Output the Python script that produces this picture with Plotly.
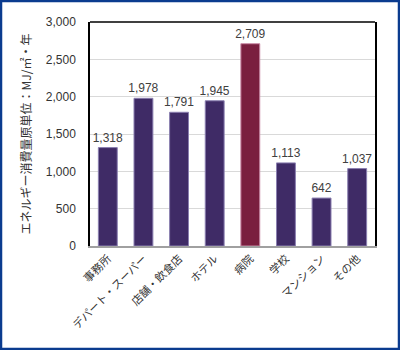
import plotly.graph_objects as go

categories = ["事務所", "デパート・スーパー", "店舗・飲食店", "ホテル", "病院", "学校", "マンション", "その他"]
values = [1318, 1978, 1791, 1945, 2709, 1113, 642, 1037]
highlight = "病院"

purple = "#3f2b66"
red = "#7a1f3f"
colors = [red if c == highlight else purple for c in categories]
edge = ["#c98aa6" if c == highlight else "#8a7fb0" for c in categories]

W, H = 400, 350
ml, mr, mt, mb = 90, 25, 22, 104
pw, ph = W - ml - mr, H - mt - mb

fig = go.Figure()
fig.add_trace(go.Bar(
    x=categories, y=values,
    marker=dict(color=colors, line=dict(color=edge, width=1)),
    text=[f"{v:,}" for v in values],
    textposition="outside",
    constraintext="none",
    textfont=dict(size=12, color="#404040", family="Liberation Sans, Noto Sans CJK JP"),
    cliponaxis=False,
    width=0.53,
))

font = "Liberation Sans, Noto Sans CJK JP"
fig.update_layout(
    width=W, height=H,
    margin=dict(l=ml, r=mr, t=mt, b=mb, autoexpand=False),
    paper_bgcolor="white", plot_bgcolor="white",
    showlegend=False,
    font=dict(family=font, color="#333333"),
    xaxis=dict(
        tickangle=-45,
        tickfont=dict(size=11, family="Noto Sans CJK JP", color="#333333"),
        showline=True, linecolor="#a0a0a0", linewidth=2,
        showgrid=False, ticks="",
    ),
    yaxis=dict(
        range=[0, 3000], dtick=500,
        tickformat=",",
        tickfont=dict(size=12, color="#333333"),
        showgrid=True, gridcolor="#d9d9d9", gridwidth=1,
        showline=True, linecolor="#000000", linewidth=1.5, mirror=True,
        zeroline=False,
        ticklabelstandoff=10,
        title=dict(text="エネルギー消費量原単位：MJ/㎡・年",
                   font=dict(size=12, family="Noto Sans CJK JP", color="#333333"),
                   standoff=12),
    ),
    shapes=[
        dict(type="line", xref="paper", yref="paper", x0=0, x1=1, y0=1, y1=1,
             line=dict(color="#000000", width=1.5)),
        dict(type="rect", xref="paper", yref="paper",
             x0=(-ml + 1) / pw, x1=1 + (mr - 1) / pw,
             y0=(-mb + 1) / ph, y1=1 + (mt - 1) / ph,
             line=dict(color="#0b3b8f", width=2.5)),
    ],
)

fig.write_html("out.html")
